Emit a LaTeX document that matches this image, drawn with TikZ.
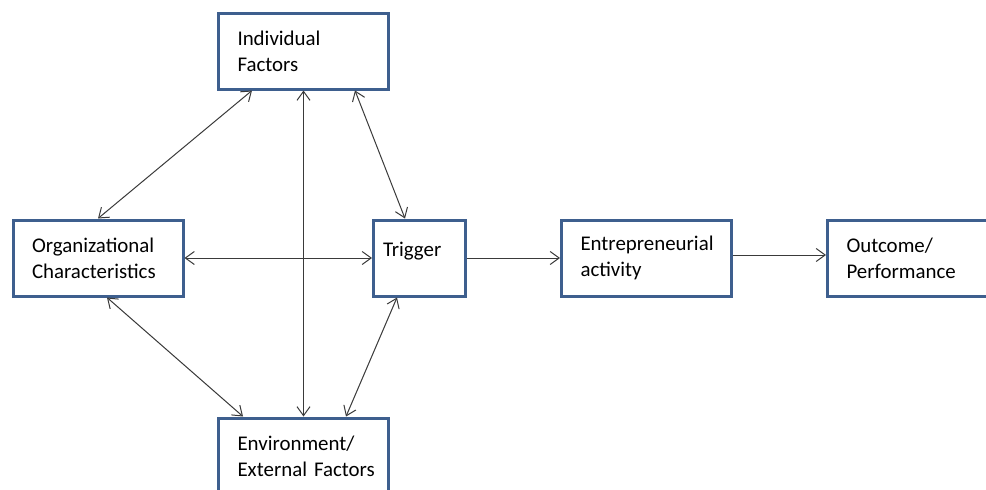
\documentclass[tikz,border=0pt]{standalone}
\usepackage{fontspec}
\setmainfont{Carlito}
\usetikzlibrary{arrows.meta}
\definecolor{boxblue}{HTML}{3E5F8E}
\definecolor{arrowgray}{HTML}{3A3A3A}

\begin{document}
\begin{tikzpicture}[x=1pt,y=-1pt,
    block/.style={draw=boxblue, line width=3pt, fill=white, minimum width=170pt, minimum height=76pt,
        inner xsep=19pt, text width=132pt, align=left, text=black, font=\fontsize{20.9}{26}\selectfont},
    link/.style={draw=arrowgray, line width=1pt, {Straight Barb[length=9pt,width=13pt]}-{Straight Barb[length=9pt,width=13pt]}},
    onelink/.style={link, {}-{Straight Barb[length=9pt,width=13pt]}}]
    \useasboundingbox (0,0) rectangle (986,490);
    \clip (0,0) rectangle (986,490);

    % Draw boxes
    \node[block] (ind) at (303.5,51) {Individual\\Factors};
    \node[block] (org) at (98,258) {Organizational\\Characteristics};
    \node[block, minimum width=92pt, inner xsep=9.5pt, text width=73pt, text depth=17pt] (trig) at (419.5,258) {Trigger};
    \node[block] (ent) at (646.5,258) {Entrepreneurial\\activity};
    \node[block] (out) at (912.5,258) {Outcome/\\Performance};
    \node[block] (env) at (303.5,456) {Environment/\\\mbox{External Factors}};

    % Draw links between factors
    \draw[link] ([xshift=-51.5pt]ind.south) -- (org.north);
    \draw[link] (ind.south) -- (env.north);
    \draw[link] ([xshift=51.5pt]ind.south) -- ([xshift=-14.5pt]trig.north);
    \draw[link] (org.east) -- (trig.west);
    \draw[link] ([xshift=9pt]org.south) -- ([xshift=-60.5pt]env.north);
    \draw[link] ([xshift=-22.5pt]trig.south) -- ([xshift=42.5pt]env.north);

    % Draw flow to outcome
    \draw[onelink] (trig.east) -- (ent.west);
    \draw[onelink] ([yshift=3pt]ent.east) -- ([yshift=3pt]out.west);
\end{tikzpicture}
\end{document}
